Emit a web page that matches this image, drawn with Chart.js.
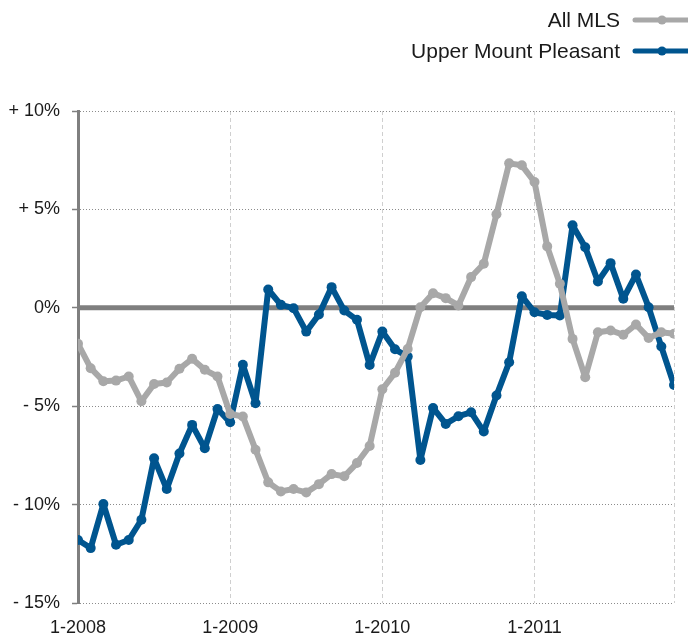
<!DOCTYPE html>
<html>
<head>
<meta charset="utf-8">
<script src="https://cdn.jsdelivr.net/npm/chart.js@4"></script>
<style>
html,body{margin:0;padding:0;background:#fff;}
#wrap{width:688px;height:634px;position:relative;}
</style>
</head>
<body>
<div id="wrap"><canvas id="c" width="688" height="634"></canvas></div>
<script>
const yearLabels = ["1-2008", "1-2009", "1-2010", "1-2011"];
const yTickValues = [-15, -10, -5, 0, 5, 10];
const yTickLabels = ["- 15%", "- 10%", "- 5%", "0%", "+ 5%", "+ 10%"];
const seriesNames = ["All MLS", "Upper Mount Pleasant"];
const allMLS = [
  -1.83, -3.07, -3.73, -3.70, -3.49, -4.75, -3.87, -3.80, -3.10, -2.59, -3.15, -3.49,
  -5.40, -5.52, -7.21, -8.87, -9.33, -9.21, -9.38, -8.96, -8.45, -8.56, -7.89, -7.02,
  -4.14, -3.30, -2.09, 0.03, 0.74, 0.49, 0.12, 1.56, 2.24, 4.75, 7.34, 7.24,
  6.39, 3.12, 1.22, -1.58, -3.53, -1.24, -1.15, -1.37, -0.85, -1.53, -1.24, -1.32
];
const upperMountPleasant = [
  -11.80, -12.21, -9.97, -12.04, -11.80, -10.77, -7.65, -9.21, -7.40, -5.95, -7.14, -5.14,
  -5.82, -2.89, -4.85, 0.93, 0.15, -0.02, -1.21, -0.34, 1.05, -0.14, -0.61, -2.91,
  -1.21, -2.11, -2.48, -7.73, -5.09, -5.90, -5.51, -5.31, -6.29, -4.46, -2.77, 0.59,
  -0.23, -0.36, -0.39, 4.19, 3.08, 1.34, 2.27, 0.46, 1.69, 0.03, -1.97, -3.92
];

const GREY = '#a8a8a8';
const BLUE = '#00558f';
const FONT = '"Liberation Sans", Arial, Helvetica, sans-serif';

const toXY = arr => arr.map((v, i) => ({x: i, y: v}));
const lastIndex = allMLS.length - 1;

const zeroLine = {
  id: 'zeroLine',
  beforeDatasetsDraw(chart) {
    const {ctx, chartArea, scales} = chart;
    const y = scales.y.getPixelForValue(0);
    ctx.save();
    ctx.strokeStyle = '#7f7f7f';
    ctx.lineWidth = 5;
    ctx.beginPath();
    ctx.moveTo(chartArea.left, y);
    ctx.lineTo(chartArea.right, y);
    ctx.stroke();
    ctx.restore();
  }
};

const customLegend = {
  id: 'customLegend',
  afterDraw(chart) {
    const ctx = chart.ctx;
    const rows = [20, 51];
    chart.data.datasets.forEach((ds, i) => {
      const y = rows[i];
      ctx.save();
      ctx.font = '21px ' + FONT;
      ctx.fillStyle = '#1a1a1a';
      ctx.textAlign = 'right';
      ctx.textBaseline = 'middle';
      ctx.fillText(ds.label, 620, y + 1);
      ctx.strokeStyle = ds.borderColor;
      ctx.lineWidth = 5;
      ctx.lineCap = 'round';
      ctx.beginPath();
      ctx.moveTo(635, y);
      ctx.lineTo(690, y);
      ctx.stroke();
      ctx.fillStyle = ds.borderColor;
      ctx.beginPath();
      ctx.arc(662, y, 4.5, 0, Math.PI * 2);
      ctx.fill();
      ctx.restore();
    });
  }
};

new Chart(document.getElementById('c'), {
  type: 'line',
  data: {
    datasets: [
      {
        label: seriesNames[0],
        data: toXY(allMLS),
        borderColor: GREY,
        backgroundColor: GREY,
        borderWidth: 6,
        pointRadius: 5,
        pointBorderWidth: 0,
        pointBackgroundColor: GREY,
        tension: 0,
        borderJoinStyle: 'round'
      },
      {
        label: seriesNames[1],
        data: toXY(upperMountPleasant),
        borderColor: BLUE,
        backgroundColor: BLUE,
        borderWidth: 6,
        pointRadius: 5,
        pointBorderWidth: 0,
        pointBackgroundColor: BLUE,
        tension: 0,
        borderJoinStyle: 'round'
      }
    ]
  },
  options: {
    responsive: false,
    animation: false,
    devicePixelRatio: 1,
    layout: {padding: {top: 111, right: 13, left: 0, bottom: 0}},
    plugins: {legend: {display: false}, tooltip: {enabled: false}},
    scales: {
      x: {
        type: 'linear',
        min: 0,
        max: lastIndex,
        afterBuildTicks(scale) {
          const t = yearLabels.map((_, i) => ({value: i * 12}));
          t.push({value: lastIndex});
          scale.ticks = t;
        },
        afterFit(scale) { scale.height = 31; },
        ticks: {
          autoSkip: false,
          maxRotation: 0,
          padding: 14,
          color: '#1a1a1a',
          font: {family: FONT, size: 18},
          callback(v) {
            const i = v / 12;
            return Number.isInteger(i) && i < yearLabels.length ? yearLabels[i] : '';
          }
        },
        grid: {
          drawTicks: false,
          color: '#cfcfcf',
          lineWidth: 1
        },
        border: {display: false, dash: [4, 3]}
      },
      y: {
        min: -15,
        max: 10,
        afterBuildTicks(scale) {
          scale.ticks = yTickValues.map(v => ({value: v}));
        },
        afterFit(scale) { scale.width = 78; },
        ticks: {
          padding: 12,
          color: '#1a1a1a',
          font: {family: FONT, size: 18},
          callback(v) {
            const i = yTickValues.indexOf(v);
            return i >= 0 ? yTickLabels[i] : '';
          }
        },
        grid: {
          drawTicks: true,
          tickLength: 6,
          tickColor: '#7f7f7f',
          tickWidth: 1.5,
          color: ctx => (ctx.tick && ctx.tick.value === 0) ? 'rgba(0,0,0,0)' : '#8c8c8c',
          lineWidth: 1
        },
        border: {display: true, color: '#7f7f7f', width: 3, dash: [1, 2]}
      }
    }
  },
  plugins: [zeroLine, customLegend]
});
</script>
</body>
</html>
